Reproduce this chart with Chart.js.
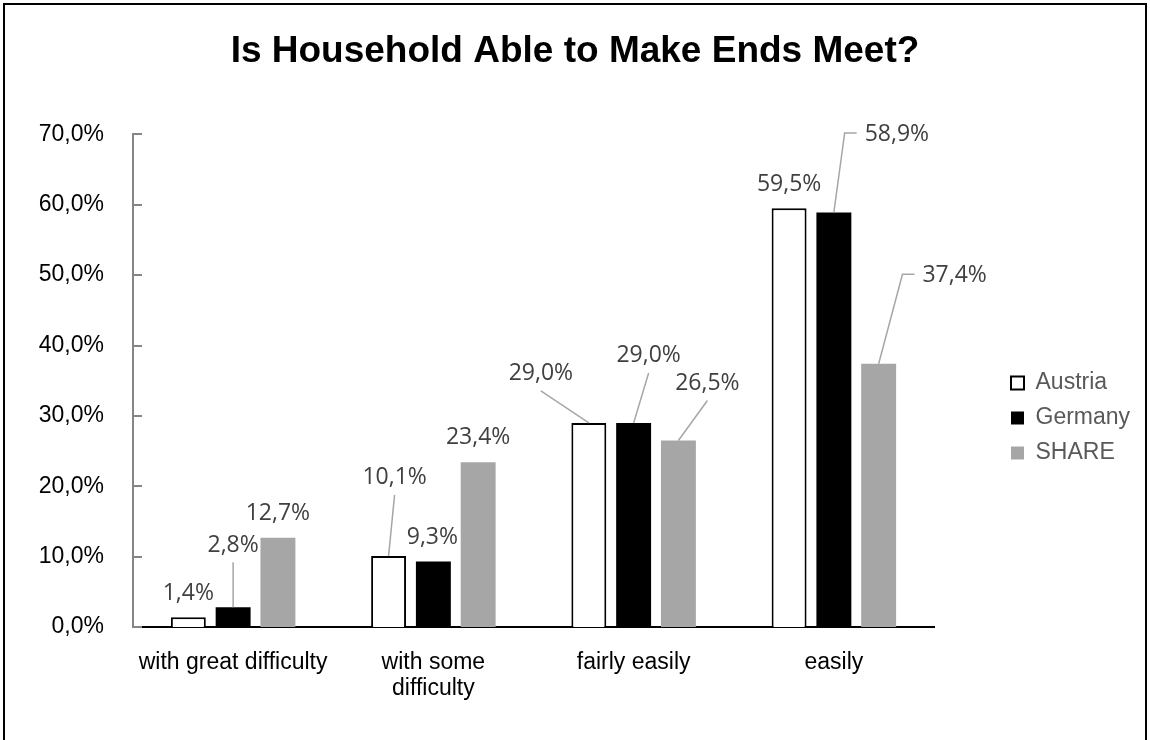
<!DOCTYPE html>
<html>
<head>
<meta charset="utf-8">
<script src="https://cdn.jsdelivr.net/npm/chart.js@4.4.1/dist/chart.umd.min.js"></script>
<style>
  html, body { margin: 0; padding: 0; background: #ffffff; }
  #frame { position: absolute; left: 3px; top: 3px; width: 1140px; height: 800px;
           border: 2px solid #000; border-bottom: none; z-index: 0; }
  #wrap { position: absolute; left: 0; top: 0; width: 1150px; height: 740px; z-index: 1; }
  canvas { display: block; }
</style>
</head>
<body>
<div id="frame"></div>
<div id="wrap"><canvas id="c" width="1150" height="740"></canvas></div>
<script>
// ---- data ----
const titleText = 'Is Household Able to Make Ends Meet?';
const categories = [['with great difficulty'], ['with some', 'difficulty'], ['fairly easily'], ['easily']];
const seriesNames = ['Austria', 'Germany', 'SHARE'];
const austria = [1.4, 10.1, 29.0, 59.5];
const germany = [2.8, 9.3, 29.0, 58.9];
const share = [12.7, 23.4, 26.5, 37.4];
const yTickValues = [0, 10, 20, 30, 40, 50, 60, 70];

function pct(v) { return v.toFixed(1).replace('.', ',') + '%'; }

// label placement (offset of label centre from bar top centre, leader style)
const labelPlacement = [
  [{dx: 0, dy: -24}, {dx: 6, dy: -78, lead: 'line'}, {dx: -48, dy: -49, lead: 'line'}, {dx: 0, dy: -24}],
  [{dx: 0, dy: -62, lead: 'line'}, {dx: -1, dy: -24}, {dx: 15, dy: -67, lead: 'line'}, {dx: 63, dy: -78, lead: 'elbow'}],
  [{dx: 0, dy: -24}, {dx: 0, dy: -25}, {dx: 29, dy: -57, lead: 'line'}, {dx: 76, dy: -88, lead: 'elbow'}]
];

const dataLabelPlugin = {
  id: 'dataLabels',
  afterDatasetsDraw(chart) {
    const ctx = chart.ctx;
    ctx.save();
    ctx.font = '23px "Open Sans"';
    ctx.textAlign = 'center';
    ctx.textBaseline = 'middle';
    chart.data.datasets.forEach((ds, di) => {
      const meta = chart.getDatasetMeta(di);
      meta.data.forEach((bar, i) => {
        const p = labelPlacement[di][i];
        const bx = bar.x, by = bar.y;
        const lx = bx + p.dx, ly = by + p.dy;
        const txt = pct(ds.data[i]);
        const w = ctx.measureText(txt).width;
        ctx.strokeStyle = '#a6a6a6';
        ctx.lineWidth = 1.5;
        if (p.lead === 'line') {
          ctx.beginPath();
          ctx.moveTo(lx, ly + 17);
          ctx.lineTo(bx, by);
          ctx.stroke();
        } else if (p.lead === 'elbow') {
          const left = lx - w / 2;
          ctx.beginPath();
          ctx.moveTo(bx, by);
          ctx.lineTo(left - 20, ly - 1.5);
          ctx.lineTo(left - 8, ly - 1.5);
          ctx.stroke();
        }
        ctx.fillStyle = '#404040';
        ctx.fillText(txt, lx, ly);
      });
    });
    ctx.restore();
  }
};

const innerTicksPlugin = {
  id: 'innerTicks',
  afterDraw(chart) {
    const y = chart.scales.y;
    const ctx = chart.ctx;
    const x0 = chart.chartArea.left;
    ctx.save();
    ctx.strokeStyle = '#868686';
    ctx.lineWidth = 2;
    y.ticks.forEach(t => {
      const py = Math.round(y.getPixelForValue(t.value));
      ctx.beginPath();
      ctx.moveTo(x0, py);
      ctx.lineTo(x0 + 9, py);
      ctx.stroke();
    });
    ctx.restore();
  }
};

const legendLayoutPlugin = {
  id: 'legendLayout',
  beforeLayout(chart) {
    const lg = chart.legend;
    if (lg && !lg._patched) {
      const orig = lg.fit.bind(lg);
      lg.fit = function () { orig(); this.width = 216; };
      lg._patched = true;
    }
  },
  afterLayout(chart) {
    const lg = chart.legend;
    if (lg) { lg.left = 999; lg.top += 48; lg.bottom += 48; }
  }
};

new Chart(document.getElementById('c'), {
  type: 'bar',
  data: {
    labels: categories,
    datasets: [
      { label: seriesNames[0], data: austria, backgroundColor: '#ffffff', borderColor: '#000000', borderWidth: 2 },
      { label: seriesNames[1], data: germany, backgroundColor: '#000000', borderWidth: 0 },
      { label: seriesNames[2], data: share, backgroundColor: '#a6a6a6', borderWidth: 0 }
    ]
  },
  options: {
    responsive: false,
    animation: false,
    devicePixelRatio: 1,
    datasets: { bar: { categoryPercentage: 0.671, barPercentage: 0.78 } },
    layout: { padding: 0 },
    plugins: {
      title: {
        display: true, text: titleText, color: '#000000',
        font: { family: '"Liberation Sans", Arial, sans-serif', size: 37, weight: 'bold', lineHeight: 1.2 },
        padding: { top: 30, bottom: 60 }
      },
      legend: {
        position: 'right', align: 'center',
        labels: {
          font: { family: '"Liberation Sans", Arial, sans-serif', size: 23 },
          color: '#595959', boxWidth: 13, boxHeight: 13, padding: 12
        }
      },
      tooltip: { enabled: false }
    },
    scales: {
      x: {
        grid: { display: false },
        border: { display: true, color: '#000000', width: 2 },
        ticks: {
          font: { family: '"Liberation Sans", Arial, sans-serif', size: 23, lineHeight: 1.15 },
          color: '#000000', padding: 14, maxRotation: 0, autoSkip: false
        },
        afterFit(s) { s.height = 113; }
      },
      y: {
        min: 0, max: 70,
        grid: { display: false },
        border: { display: true, color: '#868686', width: 2 },
        afterBuildTicks(s) { s.ticks = yTickValues.map(v => ({ value: v })); },
        ticks: {
          stepSize: 10,
          font: { family: '"Liberation Sans", Arial, sans-serif', size: 23 },
          color: '#000000', padding: 21,
          callback: (v) => pct(v)
        },
        afterFit(s) { s.width = 133; }
      }
    }
  },
  plugins: [dataLabelPlugin, innerTicksPlugin, legendLayoutPlugin]
});
</script>
</body>
</html>
